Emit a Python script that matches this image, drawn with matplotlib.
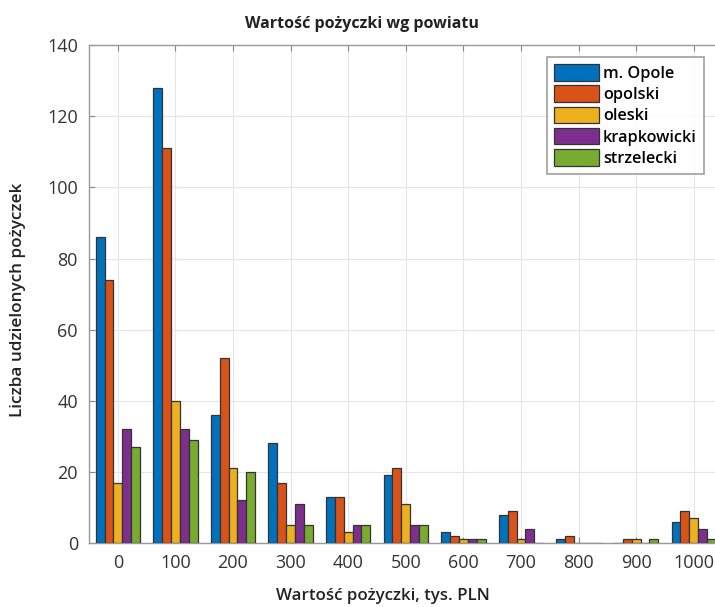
import numpy as np
import matplotlib.pyplot as plt

plt.rcParams['font.family'] = ['Open Sans', 'DejaVu Sans']

# przedziały wartości pożyczki (tys. PLN)
labels = ['0', '100', '200', '300', '400', '500', '600', '700', '800', '900', '1000']
powiaty = ['m. Opole', 'opolski', 'oleski', 'krapkowicki', 'strzelecki']

m_opole = [86, 128, 36, 28, 13, 19, 3, 8, 1, 0, 6]
opolski = [74, 111, 52, 17, 13, 21, 2, 9, 2, 1, 9]
oleski = [17, 40, 21, 5, 3, 11, 1, 1, 0, 1, 7]
krapkowicki = [32, 32, 12, 11, 5, 5, 1, 4, 0, 0, 4]
strzelecki = [27, 29, 20, 5, 5, 5, 1, 0, 0, 1, 1]

series = [m_opole, opolski, oleski, krapkowicki, strzelecki]
colors = ['#0072BD', '#D95319', '#EDB120', '#7E2F8E', '#77AC30']

fig = plt.figure(figsize=(7.15, 6.07), dpi=100)
ax = fig.add_axes([0.1245, 0.1054, 0.886, 0.820])

x = np.arange(len(labels))
w = 0.77 / 5
for i, (vals, c, name) in enumerate(zip(series, colors, powiaty)):
    ax.bar(x + (i - 2) * w, vals, width=w, color=c, edgecolor='#333333',
           linewidth=0.9, label=name, zorder=3)

ax.set_xlim(-0.5, 10.5)
ax.set_ylim(0, 140)
ax.set_xticks(x)
ax.set_xticklabels(labels)
ax.set_yticks(np.arange(0, 141, 20))
ax.grid(True, color='#e6e6e6', linewidth=0.8, zorder=0)
ax.tick_params(direction='in', top=True, right=True, length=4, width=0.8,
               color='#888888', labelsize=13, labelcolor='#333333', pad=8)
for s in ax.spines.values():
    s.set_color('#999999')
    s.set_linewidth(1.0)

fig.text(0.506, 0.954, 'Wartość pożyczki wg powiatu', fontsize=11.5,
         fontweight='bold', color='#222222', ha='center', va='baseline')
fig.text(0.536, 0.0115, 'Wartość pożyczki, tys. PLN', fontsize=12.2,
         fontweight='semibold', color='#222222', ha='center', va='baseline')
ax.set_ylabel('Liczba udzielonych pożyczek', fontsize=12.3, fontweight='semibold',
              color='#222222')
ax.yaxis.set_label_coords(-0.1, 0.488)

leg = ax.legend(loc='upper left', bbox_to_anchor=(0.723, 0.976), fontsize=11.7,
                frameon=True, fancybox=False, edgecolor='#888888',
                handlelength=2.77, handleheight=1.17, handletextpad=0.25,
                labelspacing=0.22, borderpad=0.43, borderaxespad=0)
leg.get_frame().set_linewidth(1.2)
for t in leg.get_texts():
    t.set_fontweight('semibold')

fig.savefig('out.png', dpi=100)
